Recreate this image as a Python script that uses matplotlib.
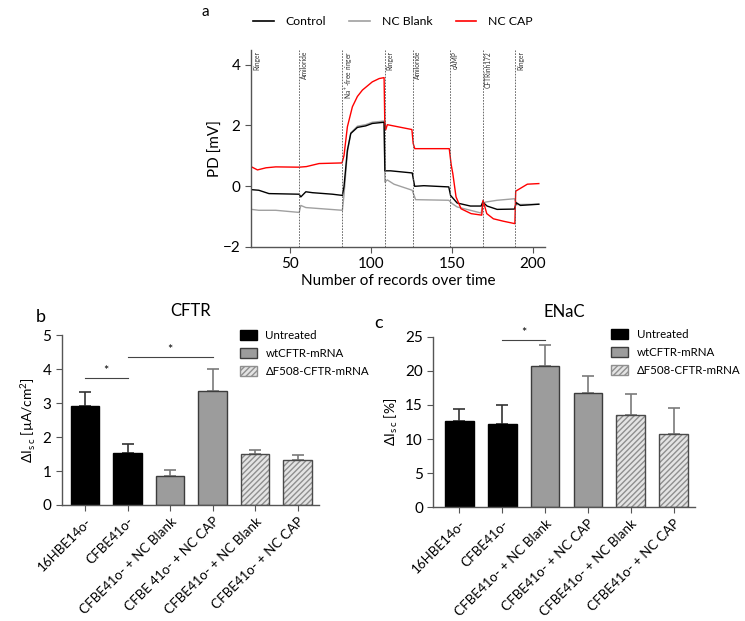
import numpy as np
import matplotlib
matplotlib.use("Agg")
import matplotlib.pyplot as plt
from matplotlib.patches import Patch
from matplotlib.lines import Line2D

plt.rcParams['font.family'] = ['Lato', 'DejaVu Sans']
plt.rcParams['mathtext.fontset'] = 'custom'
plt.rcParams['mathtext.rm'] = 'Lato'

# ---- panel a: transepithelial PD traces ----
ctrl_x = [26, 30.5, 36.8, 55.5, 56.5, 59.6, 63.7, 76, 82.2, 83.2, 85.3, 87.4, 91.5, 96.6, 100.7, 108,
          108.5, 112, 125.4, 126.9, 132.6, 148, 149.1, 153.2, 161.4, 168, 169, 171.7, 177.9, 188.6,
          189.8, 192.3, 203.7]
ctrl_y = [-0.12, -0.14, -0.25, -0.27, -0.36, -0.19, -0.22, -0.27, -0.31, -0.02, 1.18, 1.73, 1.93, 1.98,
          2.06, 2.1, 0.5, 0.5, 0.43, -0.01, 0.01, -0.03, -0.31, -0.56, -0.66, -0.66, -0.53, -0.66, -0.77,
          -0.76, -0.55, -0.64, -0.6]

blank_x = [26, 30.5, 41, 55.5, 56.5, 59.6, 82.2, 83.2, 85.3, 87.4, 91.5, 96.6, 100.7, 108, 108.5, 110,
           114.1, 125.4, 127.5, 148, 150.1, 153.2, 161.4, 168, 169, 170.7, 177.9, 188.6, 190.2, 203.7]
blank_y = [-0.77, -0.8, -0.8, -0.87, -0.64, -0.71, -0.8, -0.3, 1.1, 1.75, 1.97, 2.02, 2.1, 2.14, 0.13,
           0.2, 0.06, -0.14, -0.45, -0.47, -0.58, -0.69, -0.8, -0.89, -0.6, -0.53, -0.47, -0.42, -0.61, -0.6]

cap_x = [26, 29.7, 35, 41, 55.5, 60, 67.8, 82, 83.2, 85.3, 88.4, 91.5, 94.6, 100.7, 105, 108, 108.4,
         109, 110, 125.2, 126, 127, 148.3, 149.5, 150.5, 152.5, 155.6, 161.8, 168.4, 169.2, 171.5,
         175.6, 181.8, 188.9, 189.4, 196.6, 203.7]
cap_y = [0.63, 0.53, 0.6, 0.63, 0.62, 0.64, 0.74, 0.76, 1.0, 1.95, 2.61, 2.95, 3.16, 3.43, 3.54, 3.57,
         2.2, 1.85, 2.02, 1.86, 1.4, 1.23, 1.23, 0.7, 0.41, -0.36, -0.75, -0.91, -0.96, -0.47, -0.91,
         -1.08, -1.16, -1.24, -0.17, 0.06, 0.08]

events_x = [25.8, 55.4, 82.2, 108.4, 125.6, 148.5, 169, 189.2]
events = ['Ringer', 'Amiloride', 'Na$^+$-free ringer', 'Ringer', 'Amiloride', 'cAMP', 'CFTRinh172', 'Ringer']

# ---- panels b and c ----
groups = ['16HBE14o-', 'CFBE41o-', 'CFBE41o- + NC Blank', 'CFBE 41o- + NC CAP',
          'CFBE41o- + NC Blank', 'CFBE41o- + NC CAP']
groups_c = ['16HBE14o-', 'CFBE41o-', 'CFBE41o- + NC Blank', 'CFBE41o- + NC CAP',
            'CFBE41o- + NC Blank', 'CFBE41o- + NC CAP']
kind = ['Untreated', 'Untreated', 'wt', 'wt', 'dF', 'dF']
cftr_mean = [2.91, 1.52, 0.86, 3.34, 1.50, 1.31]
cftr_err = [0.42, 0.27, 0.17, 0.65, 0.11, 0.16]
enac_mean = [12.6, 12.2, 20.7, 16.8, 13.56, 10.73]
enac_err = [1.75, 2.78, 3.15, 2.47, 3.08, 3.77]

fig = plt.figure(figsize=(7.45, 6.21), dpi=100)

spine_c = '#555555'

# panel a
ax = fig.add_axes([0.3365, 0.6027, 0.395, 0.3168])
ax.plot(blank_x, blank_y, color='#a0a0a0', lw=1.0)
ax.plot(ctrl_x, ctrl_y, color='black', lw=1.0)
ax.plot(cap_x, cap_y, color='red', lw=1.0)
for ex, lab in zip(events_x, events):
    ax.axvline(ex, color='#555555', ls=(0, (2, 1.5)), lw=0.6)
    ax.text(ex + 1.2, 4.45, lab, rotation=90, va='top', ha='left', fontsize=4.8, color='#333333')
ax.set_xlim(25.5, 207.5)
ax.set_ylim(-2, 4.48)
ax.set_xticks([50, 100, 150, 200])
ax.set_yticks([-2, 0, 2, 4])
ax.set_xlabel('Number of records over time', fontsize=11, labelpad=2)
ax.set_ylabel('PD [mV]', fontsize=11, labelpad=0)
for s in ['top', 'right']:
    ax.spines[s].set_visible(False)
for s in ['left', 'bottom']:
    ax.spines[s].set_color(spine_c)
    ax.spines[s].set_linewidth(1.0)
ax.tick_params(labelsize=11, color=spine_c, length=4)
handles = [Line2D([], [], color='black', lw=1.2), Line2D([], [], color='#a0a0a0', lw=1.2),
           Line2D([], [], color='red', lw=1.2)]
fig.legend(handles, ['Control', 'NC Blank', 'NC CAP'], loc='center', bbox_to_anchor=(0.5275, 0.9646),
           ncol=3, frameon=False, fontsize=8.8, handlelength=1.7, handletextpad=0.95, columnspacing=1.9)
fig.text(0.275, 0.98, 'a', fontsize=11, ha='center', va='center')


def bar_panel(ax, means, errs, labels, ylab, title, ymax, step):
    x = np.arange(len(means))
    for i, (m, e, k) in enumerate(zip(means, errs, kind)):
        if k == 'Untreated':
            errc = '#333333'
            ax.bar(x[i], m, 0.67, color='black', edgecolor='black', lw=1.0, zorder=2)
        elif k == 'wt':
            errc = '#7a7a7a'
            ax.bar(x[i], m, 0.67, color='#9c9c9c', edgecolor='#3c3c3c', lw=1.0, zorder=2)
        else:
            errc = '#7a7a7a'
            ax.bar(x[i], m, 0.67, color='#e4e4e4', edgecolor='#8f8f8f', hatch='//////', lw=0, zorder=2)
            ax.bar(x[i], m, 0.67, color='none', edgecolor='#4a4a4a', lw=1.0, zorder=3)
        ax.errorbar(x[i], m, yerr=[[0], [e]], color=errc, capsize=4, lw=1.2, capthick=1.2, zorder=1)
    ax.set_xlim(-0.55, 5.5)
    ax.set_ylim(0, ymax)
    ax.set_yticks(np.arange(0, ymax + 0.1, step))
    ax.set_xticks(x)
    ax.set_xticklabels(labels, rotation=45, ha='right', rotation_mode='anchor', fontsize=9.6)
    ax.set_ylabel(ylab, fontsize=10, labelpad=4)
    ax.set_title(title, fontsize=12, pad=14)
    for s in ['top', 'right']:
        ax.spines[s].set_visible(False)
    for s in ['left', 'bottom']:
        ax.spines[s].set_color(spine_c)
        ax.spines[s].set_linewidth(1.0)
    ax.tick_params(axis='y', labelsize=11, color=spine_c, length=4)
    ax.tick_params(axis='x', color=spine_c, length=4)
    leg_h = [Patch(facecolor='black', edgecolor='black'),
             Patch(facecolor='#9c9c9c', edgecolor='#3c3c3c'),
             Patch(facecolor='#e4e4e4', edgecolor='#8f8f8f', hatch='//////')]
    return ax.legend(leg_h, ['Untreated', 'wtCFTR-mRNA', '\u0394F508-CFTR-mRNA'], loc='upper left',
                     frameon=False, fontsize=8.3, handlelength=1.45, handletextpad=0.75, borderpad=0,
                     borderaxespad=0, handleheight=0.9, labelspacing=0.6)


axb = fig.add_axes([0.0828, 0.1868, 0.3454, 0.2737])
lb = bar_panel(axb, cftr_mean, cftr_err, groups, '\u0394I$_{\\mathrm{s\\,c}}$ [\u00b5A/cm$^2$]', 'CFTR', 5, 1)
lb.set_bbox_to_anchor((0.693, 1.03), transform=axb.transAxes)
axb.plot([0, 1], [3.73, 3.73], color='#444444', lw=0.8)
axb.text(0.5, 3.76, '*', ha='center', va='bottom', fontsize=9)
axb.plot([1, 3], [4.34, 4.34], color='#444444', lw=0.8)
axb.text(2, 4.37, '*', ha='center', va='bottom', fontsize=9)
fig.text(0.055, 0.49, 'b', fontsize=13, ha='center', va='center')

axc = fig.add_axes([0.5816, 0.1831, 0.3513, 0.2747])
lc = bar_panel(axc, enac_mean, enac_err, groups_c, '\u0394I$_{\\mathrm{s\\,c}}$ [%]', 'ENaC', 25, 5)
axc.set_xlim(-0.61, 5.5)
lc.set_bbox_to_anchor((0.68, 1.045), transform=axc.transAxes)
axc.plot([1, 2], [24.45, 24.45], color='#444444', lw=0.8)
axc.text(1.5, 24.6, '*', ha='center', va='bottom', fontsize=9)
fig.text(0.508, 0.48, 'c', fontsize=13, ha='center', va='center')

fig.savefig('out.png', dpi=100)
